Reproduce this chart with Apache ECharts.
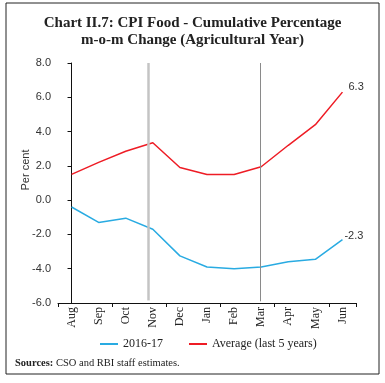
<!DOCTYPE html>
<html><head><meta charset="utf-8">
<script src="https://cdn.jsdelivr.net/npm/echarts@6/dist/echarts.min.js"></script>
<style>html,body{margin:0;padding:0;background:#fff}#c{width:385px;height:383px}</style>
</head><body><div id="c"></div>
<script>
const months = ['Aug','Sep','Oct','Nov','Dec','Jan','Feb','Mar','Apr','May','Jun'];
const series2016 = [-0.4,-1.3,-1.05,-1.7,-3.25,-3.9,-4.0,-3.9,-3.6,-3.45,-2.3];
const seriesAvg = [1.5,2.2,2.85,3.35,1.9,1.5,1.5,1.95,3.2,4.4,6.3];
const yTicks = {min:-6, max:8, interval:2};
const novLine = [2.82, 8, -5.85];
const marLine = [6.95, 8, -5.9];

const chart = echarts.init(document.getElementById('c'));
const serif = 'Liberation Serif';
const sans = 'Liberation Sans';
chart.setOption({
  animation:false,
  title:{text:'Chart II.7: CPI Food - Cumulative Percentage\nm-o-m Change (Agricultural Year)',left:'center',top:10,
    textStyle:{fontFamily:serif,fontWeight:'bold',fontSize:15,lineHeight:17,color:'#222'}},
  graphic:[
    {type:'rect',shape:{x:6,y:3,width:373,height:371},style:{fill:null,stroke:'#222',lineWidth:1}},
    {type:'text',left:15,top:358,style:{text:'{b|Sources:} CSO and RBI staff estimates.',fontFamily:serif,fontSize:10.5,fill:'#222',
      rich:{b:{fontWeight:'bold',fontFamily:serif,fontSize:10.5}}}}
  ],
  legend:{bottom:28,left:95,itemWidth:18,itemHeight:2,itemGap:26,icon:'rect',
    textStyle:{fontFamily:serif,fontSize:12,color:'#222'},data:['2016-17','Average (last 5 years)']},
  grid:{left:58,right:29,top:63,bottom:80,containLabel:false,outerBoundsMode:'none'},
  xAxis:[
    {type:'category',data:months,boundaryGap:true,position:'bottom',
      axisLine:{show:false},axisTick:{show:false},
      axisLabel:{rotate:90,fontFamily:serif,fontSize:12,color:'#222',margin:4}},
    {type:'category',data:months,boundaryGap:true,position:'bottom',
      axisLine:{onZero:true,lineStyle:{color:'#111',width:1}},axisTick:{show:true,length:4,lineStyle:{color:'#111'}},
      axisLabel:{show:false}},
    {type:'value',min:-0.5,max:10.5,show:false}
  ],
  yAxis:{type:'value',min:yTicks.min,max:yTicks.max,interval:yTicks.interval,
    name:'Per cent',nameLocation:'middle',nameGap:27,nameMoveOverlap:false,
    nameTextStyle:{fontFamily:sans,fontSize:11,color:'#333',padding:[0,0,0,26]},
    axisLine:{show:true,lineStyle:{color:'#111'}},axisTick:{show:true,length:4,lineStyle:{color:'#111'}},
    splitLine:{show:false},
    axisLabel:{fontFamily:sans,fontSize:11,color:'#333',margin:7,formatter:v=>v.toFixed(1)}},
  series:[
    {name:'2016-17',type:'line',data:series2016,symbol:'none',lineStyle:{color:'#29abe2',width:1.5},itemStyle:{color:'#29abe2'},
      endLabel:{show:true,formatter:p=>p.value.toFixed(1),fontFamily:sans,fontSize:11,color:'#333',offset:[-6,-4]}},
    {name:'Average (last 5 years)',type:'line',data:seriesAvg,symbol:'none',lineStyle:{color:'#ee1c25',width:1.5},itemStyle:{color:'#ee1c25'},
      endLabel:{show:true,formatter:p=>p.value.toFixed(1),fontFamily:sans,fontSize:11,color:'#333',offset:[-2,-5]}},
    {type:'line',xAxisIndex:2,data:[],silent:true,
      markLine:{symbol:'none',silent:true,label:{show:false},
        data:[
          [{coord:[novLine[0],novLine[1]],lineStyle:{color:'#c4c4c4',width:2.5,type:'solid'}},{coord:[novLine[0],novLine[2]]}],
          [{coord:[marLine[0],marLine[1]],lineStyle:{color:'#8a8a8a',width:1,type:'solid'}},{coord:[marLine[0],marLine[2]]}]
        ]}}
  ]
});
</script></body></html>
